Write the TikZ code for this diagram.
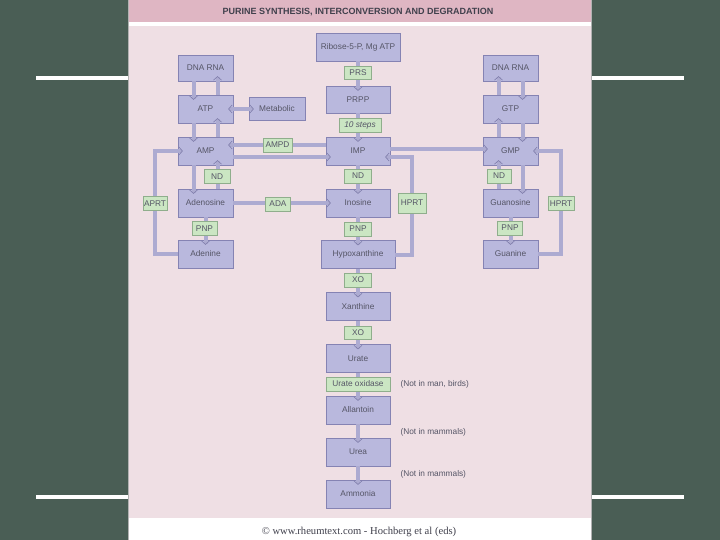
\documentclass[tikz,border=0pt]{standalone}
\usepackage{fontspec}
\setmainfont{Liberation Sans}
\newfontfamily\footfont{Liberation Serif}
\usetikzlibrary{arrows.meta}
\definecolor{slide}{HTML}{4A5E55}
\definecolor{panel}{HTML}{EFDFE4}
\definecolor{head}{HTML}{DFB6C3}
\definecolor{boxfill}{HTML}{B9B8DD}
\definecolor{boxline}{HTML}{8583B3}
\definecolor{enzfill}{HTML}{CBE6C3}
\definecolor{enzline}{HTML}{8FAE8C}
\definecolor{linkc}{HTML}{ADABD1}
\definecolor{tipc}{HTML}{7E7CAA}
\definecolor{txt}{HTML}{555566}
\newcommand{\offdraw}[4]{\draw[link] ([shift={(#3,#4)}]#1) -- ([shift={(#3,#4)}]#2)}
\tikzset{
  box/.style={draw=boxline, fill=boxfill, minimum width=55pt, minimum height=28pt, inner sep=1pt, text=txt, font=\fontsize{8.3}{9}\selectfont},
  enz/.style={draw=enzline, fill=enzfill, minimum width=25pt, minimum height=14pt, inner sep=1pt, text=txt, font=\fontsize{8.3}{9}\selectfont},
  link/.style={draw=linkc, line width=4pt, shorten >=-5pt, -{Straight Barb[length=3.5pt, width=8pt, line width=0.6pt 0, color=tipc]}},
  both/.style={link, shorten <=-5pt, {Straight Barb[length=3.5pt, width=8pt, line width=0.6pt 0, color=tipc]}-{Straight Barb[length=3.5pt, width=8pt, line width=0.6pt 0, color=tipc]}},
  note/.style={anchor=west, text=txt, font=\fontsize{8.3}{9}\selectfont}
}
\begin{document}
\begin{tikzpicture}[x=1pt, y=-1pt]
\useasboundingbox (0,0) rectangle (720,540);
% slide and panel
\fill[slide] (0,0) rectangle (720,540);
\fill[white] (36,76) rectangle (128,80);
\fill[white] (591,76) rectangle (684,80);
\fill[white] (36,495) rectangle (128,499);
\fill[white] (591,495) rectangle (684,499);
\fill[panel] (128,0) rectangle (591,540);
\fill[head] (128,0) rectangle (591,22);
\fill[white] (128,22) rectangle (591,26);
\fill[white] (128,518) rectangle (591,540);
\draw[gray!60, line width=0.6pt] (128,0) -- (128,540) (591,0) -- (591,540);
\node (title) at (358,12) {\fontsize{9}{10}\selectfont\bfseries\color{txt!75!black}PURINE SYNTHESIS, INTERCONVERSION AND DEGRADATION};
\node (foot) at (359,532) {\footfont\fontsize{10.6}{12}\selectfont\color{txt!75!black}\textcopyright{} www.rheumtext.com - Hochberg et al (eds)};

% adenine side
\node[box, minimum height=26pt] (dnaa) at (205.5,68) {DNA RNA};
\node[box] (atp) at (205.5,109) {ATP};
\node[box, minimum width=56pt, minimum height=23pt] (meta) at (277,109) {Metabolic};
\node[box] (amp) at (205.5,151) {AMP};
\node[box] (ado) at (205.5,203) {Adenosine};
\node[box] (ade) at (205.5,254) {Adenine};

% main column
\node[box, minimum width=84pt] (ribose) at (358,47) {Ribose-5-P, Mg ATP};
\node[box, minimum width=64pt, minimum height=27pt] (prpp) at (358,99.5) {PRPP};
\node[box, minimum width=64pt] (imp) at (358,151) {IMP};
\node[box, minimum width=64pt] (ino) at (358,203) {Inosine};
\node[box, minimum width=74pt] (hypo) at (358,254.5) {Hypoxanthine};
\node[box, minimum width=64pt] (xan) at (358,306.5) {Xanthine};
\node[box, minimum width=64pt] (urate) at (358,358.5) {Urate};
\node[box, minimum width=64pt] (allan) at (358,410) {Allantoin};
\node[box, minimum width=64pt] (urea) at (358,452) {Urea};
\node[box, minimum width=64pt] (ammo) at (358,494) {Ammonia};

% guanine side
\node[box, minimum height=26pt] (dnab) at (510.5,68) {DNA RNA};
\node[box] (gtp) at (510.5,109) {GTP};
\node[box] (gmp) at (510.5,151) {GMP};
\node[box] (guo) at (510.5,203) {Guanosine};
\node[box] (gua) at (510.5,254) {Guanine};

\coordinate (aprtc) at (155,203.5);
\coordinate (hprtc) at (412,203);
\coordinate (hprtd) at (561,203.5);

% connectors
\offdraw{dnaa.south}{atp.north}{-12}{0};
\offdraw{atp.north}{dnaa.south}{12}{0};
\offdraw{atp.south}{amp.north}{-12}{0};
\offdraw{amp.north}{atp.south}{12}{0};
\draw[both] (atp.east) -- (meta.west);
\offdraw{imp.west}{amp.east}{0}{-6};
\offdraw{amp.east}{imp.west}{0}{6};
\offdraw{amp.south}{ado.north}{-12}{0};
\offdraw{ado.north}{amp.south}{12}{0};
\draw[link] (ado.east) -- (ino.west);
\draw[link] (ado.south) -- (ade.north);
\draw[link] (ade.west) -| (aprtc) |- (amp.west);

\draw[link] (ribose.south) -- (prpp.north);
\draw[link] (prpp.south) -- (imp.north);
\draw[link] (imp.south) -- (ino.north);
\draw[link] (ino.south) -- (hypo.north);
\draw[link] (hypo.south) -- (xan.north);
\draw[link] (xan.south) -- (urate.north);
\draw[link] (urate.south) -- (allan.north);
\draw[link] (allan.south) -- (urea.north);
\draw[link] (urea.south) -- (ammo.north);
\draw[link] (hypo.east) -| (hprtc) |- ([yshift=-6pt]imp.east);
\draw[link] ([yshift=2pt]imp.east) -- ([yshift=2pt]gmp.west);

\offdraw{gtp.north}{dnab.south}{-12}{0};
\offdraw{dnab.south}{gtp.north}{12}{0};
\offdraw{gmp.north}{gtp.south}{-12}{0};
\offdraw{gtp.south}{gmp.north}{12}{0};
\offdraw{guo.north}{gmp.south}{-12}{0};
\offdraw{gmp.south}{guo.north}{12}{0};
\draw[link] (guo.south) -- (gua.north);
\draw[link] (gua.east) -| (hprtd) |- (gmp.east);

% enzymes
\node[enz, minimum width=29pt] (ampd) at (277.5,145) {AMPD};
\node[enz, minimum width=26pt] (ndl) at (217,176.5) {ND};
\node[enz] (ada) at (278,204) {ADA};
\node[enz] (pnpl) at (204.5,228.5) {PNP};
\node[enz, minimum width=24pt] (aprt) at (aprtc) {APRT};
\node[enz, minimum width=27pt, minimum height=13pt] (prs) at (358,73) {PRS};
\node[enz, minimum width=42pt] (steps) at (360,125) {\itshape 10 steps};
\node[enz, minimum width=27pt] (ndm) at (358,176) {ND};
\node[enz, minimum width=27pt] (pnpm) at (358,229) {PNP};
\node[enz, minimum width=28pt, minimum height=20pt] (hprta) at (hprtc) {HPRT};
\node[enz, minimum width=27pt] (xoa) at (358,280) {XO};
\node[enz, minimum width=27pt, minimum height=13pt] (xob) at (358,332.5) {XO};
\node[enz, minimum width=64pt] (uox) at (358,384) {Urate oxidase};
\node[enz, minimum width=24pt] (ndr) at (499,176) {ND};
\node[enz] (pnpr) at (510,228) {PNP};
\node[enz, minimum width=26pt] (hprtb) at (hprtd) {HPRT};

% notes
\node[note] (n1) at (397,384) {(Not in man, birds)};
\node[note] (n2) at (397,432) {(Not in mammals)};
\node[note] (n3) at (397,474) {(Not in mammals)};
\end{tikzpicture}
\end{document}
